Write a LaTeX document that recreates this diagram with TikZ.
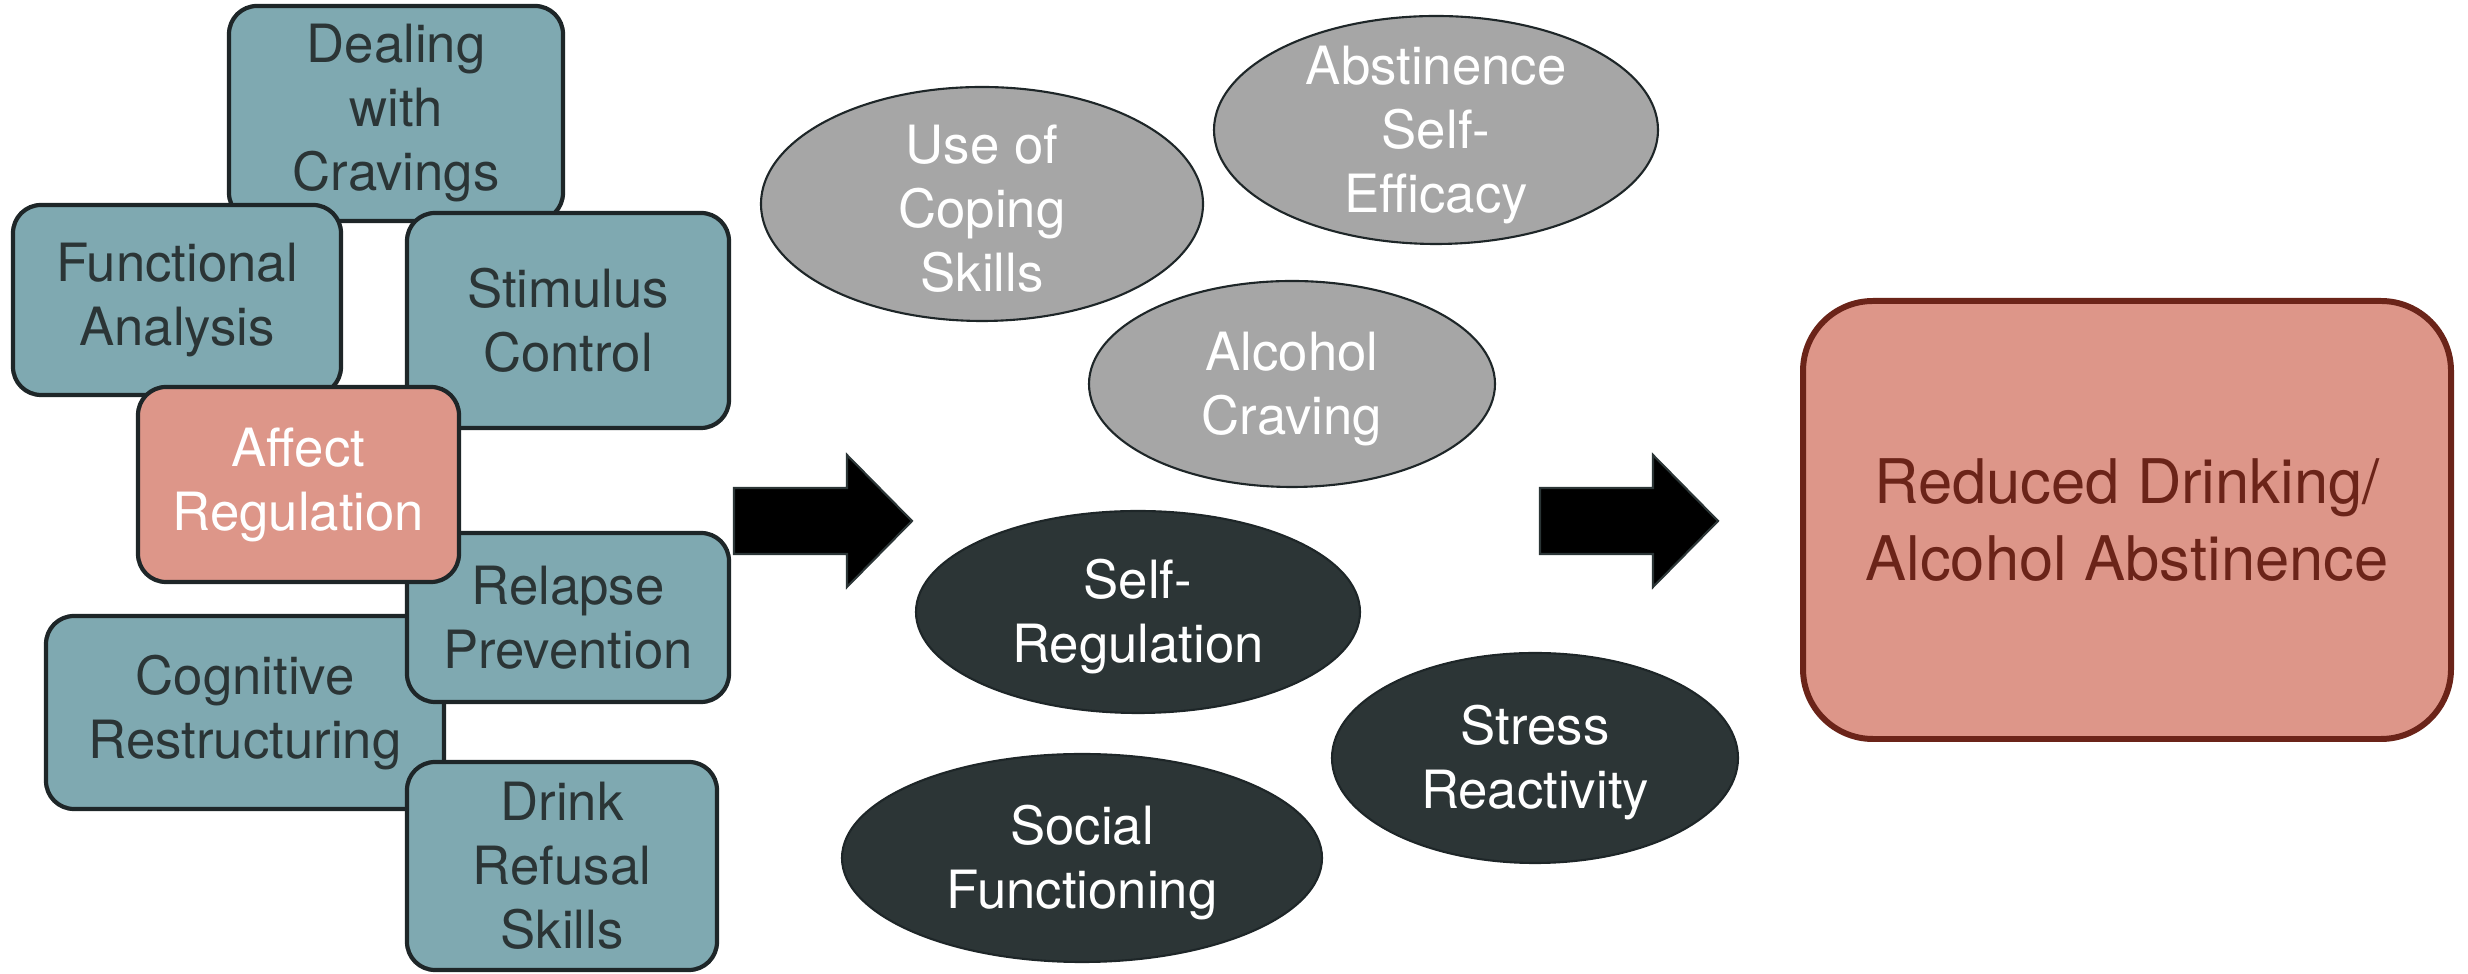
\documentclass[tikz,border=0pt]{standalone}
\usepackage{fontspec}
\setmainfont{TeX Gyre Heros}
\usetikzlibrary{shapes.geometric}
\definecolor{tealbox}{RGB}{127,169,177}
\definecolor{edgedark}{RGB}{30,38,40}
\definecolor{textdark}{RGB}{43,53,54}
\definecolor{salmon}{RGB}{221,150,137}
\definecolor{ovalgray}{RGB}{166,166,166}
\definecolor{ovaldark}{RGB}{44,53,54}
\definecolor{outbrown}{RGB}{107,36,25}
\newcommand{\boxfont}{\fontsize{15}{18.2}\selectfont}

\begin{document}
\begin{tikzpicture}[
  skill/.style={rectangle, rounded corners=0.28cm, draw=edgedark, line width=1.2pt, fill=tealbox, text=textdark, align=center, inner sep=0pt, font=\boxfont},
  focus/.style={skill, fill=salmon, text=white},
  oval/.style={ellipse, draw=edgedark, line width=0.6pt, inner sep=0pt},
  light/.style={oval, fill=ovalgray},
  dark/.style={oval, fill=ovaldark},
  ovaltext/.style={align=center, text=white, font=\boxfont, yshift=-0.05cm},
  outcome/.style={rectangle, rounded corners=0.7cm, draw=outbrown, line width=1.7pt, fill=salmon, text=outbrown, minimum width=6.48cm, minimum height=4.38cm, align=center, font=\fontsize{17.5}{22}\selectfont},
  blockarrow/.style={fill=black, draw=textdark, line width=0.6pt}
]
\useasboundingbox (0,0) rectangle (24.68,-9.74);

% Treatment components
\node[skill, minimum width=3.34cm, minimum height=2.15cm] (cravings) at (3.96,-1.135) {Dealing\\with\\Cravings};
\node[skill, minimum width=3.28cm, minimum height=1.90cm] (functional) at (1.77,-3.00) {Functional\\Analysis};
\node[skill, minimum width=3.22cm, minimum height=2.15cm] (stimulus) at (5.68,-3.205) {Stimulus\\Control};
\node[skill, minimum width=3.98cm, minimum height=1.93cm] (cognitive) at (2.45,-7.125) {Cognitive\\Restructuring};
\node[skill, minimum width=3.22cm, minimum height=1.69cm] (relapse) at (5.68,-6.175) {Relapse\\Prevention};
\node[skill, minimum width=3.10cm, minimum height=2.08cm] (refusal) at (5.62,-8.66) {Drink\\Refusal\\Skills};
\node[focus, minimum width=3.21cm, minimum height=1.95cm] (affect) at (2.985,-4.845) {Affect\\Regulation};

% Mechanisms
\node[light, minimum width=4.42cm, minimum height=2.34cm] (coping) at (9.82,-2.04) {};
\node[ovaltext] (copingtext) at (coping) {Use of\\Coping\\Skills};
\node[light, minimum width=4.44cm, minimum height=2.28cm] (efficacy) at (14.36,-1.30) {};
\node[ovaltext] (efficacytext) at (efficacy) {Abstinence\\Self-\\Efficacy};
\node[light, minimum width=4.06cm, minimum height=2.06cm] (craving) at (12.92,-3.84) {};
\node[ovaltext] (cravingtext) at (craving) {Alcohol\\Craving};
\node[dark, minimum width=4.44cm, minimum height=2.02cm] (selfreg) at (11.38,-6.12) {};
\node[ovaltext] (selfregtext) at (selfreg) {Self-\\Regulation};
\node[dark, minimum width=4.80cm, minimum height=2.08cm] (social) at (10.82,-8.58) {};
\node[ovaltext] (socialtext) at (social) {Social\\Functioning};
\node[dark, minimum width=4.06cm, minimum height=2.10cm] (stress) at (15.35,-7.58) {};
\node[ovaltext] (stresstext) at (stress) {Stress\\Reactivity};

% Outcome
\node[outcome] (result) at (21.27,-5.20) {Reduced Drinking/\\Alcohol Abstinence};

% Block arrows
\foreach \x in {7.34,15.40} {
  \draw[blockarrow, shift={(\x,0)}] (0,-4.88) -- (1.13,-4.88) -- (1.13,-4.55) -- (1.78,-5.21) -- (1.13,-5.87) -- (1.13,-5.54) -- (0,-5.54) -- cycle;
}

\end{tikzpicture}
\end{document}
